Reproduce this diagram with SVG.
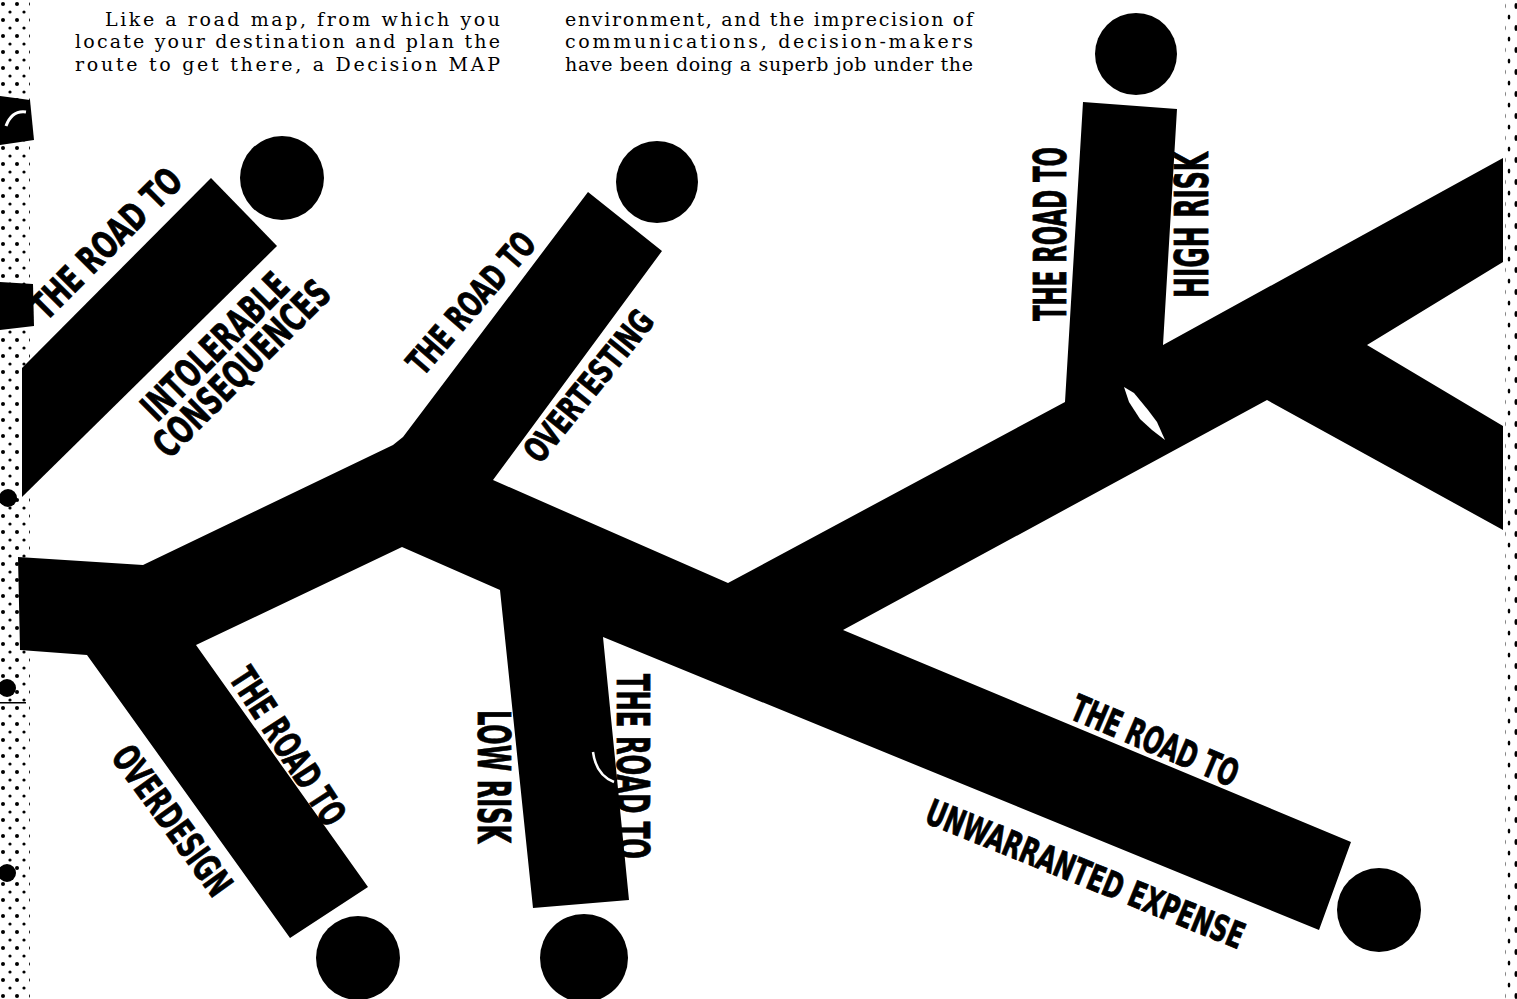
<svg xmlns="http://www.w3.org/2000/svg" width="1517" height="999" viewBox="0 0 1517 999">
<defs>
<pattern id="stip" width="14" height="16" patternUnits="userSpaceOnUse">
<circle cx="3" cy="4" r="2"/>
<circle cx="10" cy="12" r="1.6"/>
</pattern>
<pattern id="dash" width="12" height="22" patternUnits="userSpaceOnUse">
<ellipse cx="4" cy="6" rx="1.5" ry="3"/>
<ellipse cx="9" cy="17" rx="1.3" ry="2.5"/>
</pattern>
<style>
.road{fill:#000}
.dest{fill:#000}
.lbl{font-family:"DejaVu Sans Condensed","DejaVu Sans","Liberation Sans Narrow",sans-serif;font-stretch:condensed;font-weight:bold;fill:#000;stroke:#000;stroke-width:0.8}
.body{font-family:"DejaVu Serif","Liberation Serif",serif;font-size:19px;fill:#000}
.flaw{fill:#fff}
</style>
</defs>
<rect width="1517" height="999" fill="#fff"/>
<g id="margins">
<rect x="0" y="0" width="30" height="999" fill="url(#stip)"/>
<rect x="1505" y="0" width="12" height="999" fill="url(#dash)"/>
<path d="M0,96 L30,100 L34,140 L0,145 Z" fill="#000"/>
<path d="M6,126 Q12,110 26,112" fill="none" stroke="#fff" stroke-width="3"/>
<path d="M0,282 L33,284 L34,326 L0,330 Z" fill="#000"/>
<circle cx="8" cy="498" r="9" fill="#000"/>
<circle cx="7" cy="688" r="9" fill="#000"/>
<rect x="0" y="702" width="26" height="1.5" fill="#000"/>
<circle cx="7" cy="873" r="9" fill="#000"/>
</g>
<g id="page-text">
<text class="body" x="105" y="26" textLength="395" lengthAdjust="spacing">Like a road map, from which you</text>
<text class="body" x="75" y="48" textLength="425" lengthAdjust="spacing">locate your destination and plan the</text>
<text class="body" x="75" y="71" textLength="425" lengthAdjust="spacing">route to get there, a Decision MAP</text>
<text class="body" x="565" y="26" textLength="408" lengthAdjust="spacing">environment, and the imprecision of</text>
<text class="body" x="565" y="48" textLength="408" lengthAdjust="spacing">communications, decision-makers</text>
<text class="body" x="565" y="71" textLength="408" lengthAdjust="spacing">have been doing a superb job under the</text>
</g>
<g id="connectors">
<polygon class="road" points="22,368 211,178 277,246 22,497"/>
<polygon class="road" points="18,557 143,565 393,445 403,437 588,192 662,251 493,480 728,583 1065,402 1083,102 1177,109 1163,345 1503,158 1503,262 1367,345 1503,426 1503,530 1267,400 843,630 1351,842 1319,930 603,637 629,900 533,908 500,590 402,547 196,645 368,887 290,938 87,655 20,650"/>
<path class="flaw" d="M1124,387 L1134,393 L1148,410 L1157,422 L1165,440 L1152,430 L1140,419 L1129,402 Z"/>
<path d="M593,752 Q596,775 614,782" fill="none" stroke="#fff" stroke-width="2.5"/>
</g>
<g id="node-intolerable">
<circle class="dest" cx="282" cy="178" r="42"/>
<text class="lbl" font-size="37" transform="translate(46,322) rotate(-45)" textLength="196" lengthAdjust="spacingAndGlyphs">THE ROAD TO</text>
<text class="lbl" font-size="38" transform="translate(157,423) rotate(-45)" textLength="190" lengthAdjust="spacingAndGlyphs">INTOLERABLE</text>
<text class="lbl" font-size="38" transform="translate(169,460) rotate(-45)" textLength="232" lengthAdjust="spacingAndGlyphs">CONSEQUENCES</text>
</g>
<g id="node-overtesting">
<circle class="dest" cx="657" cy="182" r="41"/>
<circle cx="632" cy="282" r="2.5" fill="none" stroke="#000" stroke-width="1.2"/>
<text class="lbl" font-size="35" transform="translate(423,377) rotate(-49)" textLength="175" lengthAdjust="spacingAndGlyphs">THE ROAD TO</text>
<text class="lbl" font-size="34" transform="translate(540,465) rotate(-51)" textLength="184" lengthAdjust="spacingAndGlyphs">OVERTESTING</text>
</g>
<g id="node-high-risk">
<circle class="dest" cx="1136" cy="54" r="41"/>
<text class="lbl" font-size="44" transform="translate(1066,321) rotate(-90)" textLength="174" lengthAdjust="spacingAndGlyphs">THE ROAD TO</text>
<text class="lbl" font-size="46" transform="translate(1208,298) rotate(-90)" textLength="146" lengthAdjust="spacingAndGlyphs">HIGH RISK</text>
</g>
<g id="node-overdesign">
<circle class="dest" cx="358" cy="958" r="42"/>
<text class="lbl" font-size="37" transform="translate(228,678) rotate(57)" textLength="180" lengthAdjust="spacingAndGlyphs">THE ROAD TO</text>
<text class="lbl" font-size="37" transform="translate(110,757) rotate(54)" textLength="176" lengthAdjust="spacingAndGlyphs">OVERDESIGN</text>
</g>
<g id="node-low-risk">
<circle class="dest" cx="584" cy="958" r="44"/>
<text class="lbl" font-size="44" transform="translate(478,710) rotate(90)" textLength="133" lengthAdjust="spacingAndGlyphs">LOW RISK</text>
<text class="lbl" font-size="44" transform="translate(617,674) rotate(90)" textLength="185" lengthAdjust="spacingAndGlyphs">THE ROAD TO</text>
</g>
<g id="node-unwarranted">
<circle class="dest" cx="1379" cy="910" r="42"/>
<text class="lbl" font-size="37" transform="translate(1068,718) rotate(23)" textLength="178" lengthAdjust="spacingAndGlyphs">THE ROAD TO</text>
<text class="lbl" font-size="36" transform="translate(923,822) rotate(22)" textLength="340" lengthAdjust="spacingAndGlyphs">UNWARRANTED EXPENSE</text>
</g>
</svg>
